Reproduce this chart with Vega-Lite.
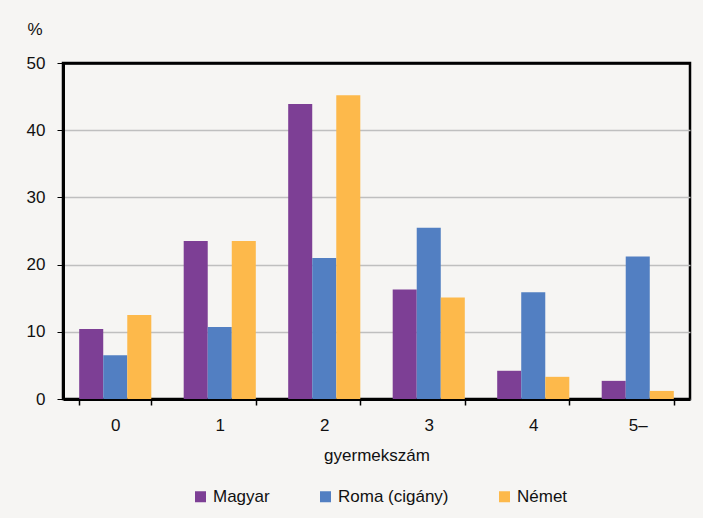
{
  "$schema": "https://vega.github.io/schema/vega-lite/v6.json",
  "width": 627,
  "height": 336,
  "autosize": {"type": "none"},
  "padding": {"left": 63, "top": 63, "right": 13, "bottom": 119},
  "background": "#f6f5f3",
  "config": {
    "font": "Liberation Sans",
    "view": {"stroke": "#000000", "strokeWidth": 2.5, "fill": "#f6f5f3"}
  },
  "data": {
    "values": [
      {"k": "0", "csoport": "Magyar", "ertek": 10.4},
      {"k": "0", "csoport": "Roma (cigány)", "ertek": 6.5},
      {"k": "0", "csoport": "Német", "ertek": 12.5},
      {"k": "1", "csoport": "Magyar", "ertek": 23.5},
      {"k": "1", "csoport": "Roma (cigány)", "ertek": 10.7},
      {"k": "1", "csoport": "Német", "ertek": 23.5},
      {"k": "2", "csoport": "Magyar", "ertek": 43.9},
      {"k": "2", "csoport": "Roma (cigány)", "ertek": 21.0},
      {"k": "2", "csoport": "Német", "ertek": 45.2},
      {"k": "3", "csoport": "Magyar", "ertek": 16.3},
      {"k": "3", "csoport": "Roma (cigány)", "ertek": 25.5},
      {"k": "3", "csoport": "Német", "ertek": 15.1},
      {"k": "4", "csoport": "Magyar", "ertek": 4.2},
      {"k": "4", "csoport": "Roma (cigány)", "ertek": 15.9},
      {"k": "4", "csoport": "Német", "ertek": 3.3},
      {"k": "5–", "csoport": "Magyar", "ertek": 2.7},
      {"k": "5–", "csoport": "Roma (cigány)", "ertek": 21.2},
      {"k": "5–", "csoport": "Német", "ertek": 1.2}
    ]
  },
  "mark": {"type": "bar"},
  "encoding": {
    "x": {
      "field": "k",
      "type": "ordinal",
      "sort": ["0", "1", "2", "3", "4", "5–"],
      "scale": {"paddingInner": 0.31, "paddingOuter": 0.155},
      "axis": {
        "title": "gyermekszám",
        "labelAngle": 0,
        "labelFontSize": 17,
        "labelColor": "#111111",
        "labelPadding": 12,
        "titleFontSize": 17,
        "titleFontWeight": "normal",
        "titleColor": "#111111",
        "titlePadding": 14,
        "domain": true,
        "domainColor": "#000000",
        "domainWidth": 3,
        "tickBand": "extent",
        "tickSize": 6,
        "tickColor": "#000000",
        "tickWidth": 1.5,
        "grid": false
      }
    },
    "xOffset": {
      "field": "csoport",
      "type": "nominal",
      "sort": ["Magyar", "Roma (cigány)", "Német"]
    },
    "y": {
      "field": "ertek",
      "type": "quantitative",
      "scale": {"domain": [0, 50]},
      "axis": {
        "values": [0, 10, 20, 30, 40, 50],
        "title": "%",
        "titleAngle": 0,
        "titleAlign": "left",
        "titleBaseline": "middle",
        "titleX": -36,
        "titleY": -34,
        "titleFontSize": 17,
        "titleFontWeight": "normal",
        "titleColor": "#111111",
        "labelFontSize": 17,
        "labelColor": "#111111",
        "labelPadding": 12,
        "domain": true,
        "domainColor": "#000000",
        "domainWidth": 3,
        "tickSize": 6,
        "tickColor": "#000000",
        "tickWidth": 1,
        "grid": true,
        "gridColor": {"condition": {"test": "datum.value === 50", "value": "#000000"}, "value": "#bfbfbf"},
        "gridWidth": {"condition": {"test": "datum.value === 50", "value": 2.5}, "value": 1.5}
      }
    },
    "color": {
      "field": "csoport",
      "type": "nominal",
      "sort": ["Magyar", "Roma (cigány)", "Német"],
      "scale": {
        "domain": ["Magyar", "Roma (cigány)", "Német"],
        "range": ["#7d3f95", "#527fc2", "#fdb94b"]
      },
      "legend": {
        "title": null,
        "orient": "none",
        "direction": "horizontal",
        "legendX": 129,
        "legendY": 425,
        "symbolType": "square",
        "symbolSize": 121,
        "symbolStrokeWidth": 0,
        "labelFontSize": 17,
        "labelColor": "#111111",
        "labelOffset": 4,
        "columnPadding": 47,
        "labelLimit": 300
      }
    }
  }
}
